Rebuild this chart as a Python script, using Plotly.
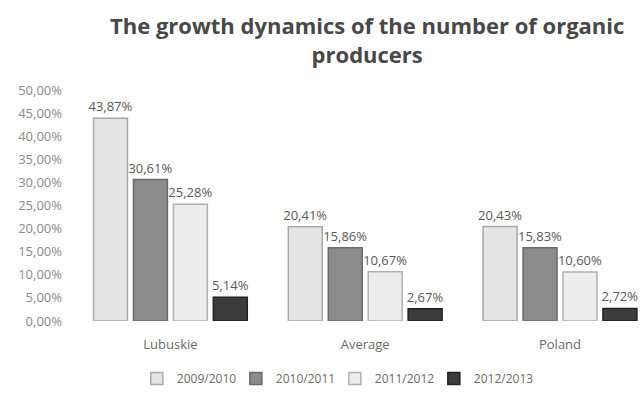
import plotly.graph_objects as go

categories = ["Lubuskie", "Average", "Poland"]
series_names = ["2009/2010", "2010/2011", "2011/2012", "2012/2013"]
v_2009_2010 = [43.87, 20.41, 20.43]
v_2010_2011 = [30.61, 15.86, 15.83]
v_2011_2012 = [25.28, 10.67, 10.60]
v_2012_2013 = [5.14, 2.67, 2.72]
tick_vals = [0, 5, 10, 15, 20, 25, 30, 35, 40, 45, 50]
tick_text = ["0,00%", "5,00%", "10,00%", "15,00%", "20,00%", "25,00%",
             "30,00%", "35,00%", "40,00%", "45,00%", "50,00%"]
title_text = "The growth dynamics of the number of organic<br>producers"

values = [v_2009_2010, v_2010_2011, v_2011_2012, v_2012_2013]
fills = ["#e4e4e4", "#8c8c8c", "#ededed", "#3c3c3c"]
edges = ["#a8a8a8", "#6a6a6a", "#b0b0b0", "#222222"]

fig = go.Figure()
for name, vals, fc, ec in zip(series_names, values, fills, edges):
    fig.add_trace(go.Bar(
        name=name, x=categories, y=vals,
        marker=dict(color=fc, line=dict(color=ec, width=1.5)),
        text=[f"{v:.2f}%".replace(".", ",") for v in vals],
        textposition="outside", cliponaxis=False, constraintext="none",
        textfont=dict(family="Open Sans", size=13, color="#595959"),
    ))

fig.add_annotation(
    text=title_text, showarrow=False,
    x=0.516, xref="paper", xanchor="center",
    y=1 + (90 - 6) / 237, yref="paper", yanchor="top",
    font=dict(family="Open Sans", size=22, color="#484848", weight="bold"),
)

fig.update_layout(
    width=643, height=393,
    margin=dict(l=73, r=0, t=90, b=66),
    paper_bgcolor="white", plot_bgcolor="white",
    barmode="group", bargap=0.18, bargroupgap=0.15,
    font=dict(family="Open Sans", size=13, color="#6a6a6a"),
    showlegend=True,
    legend=dict(
        orientation="h", x=0.112, xanchor="left", y=-0.25, yanchor="middle",
        font=dict(family="Open Sans", size=12, color="#6a6a6a"),
        entrywidth=54, itemwidth=30,
    ),
    xaxis=dict(range=[-0.5, 2.426], showline=False, showgrid=False,
               ticks="", ticklabelstandoff=14,
               tickfont=dict(family="Open Sans", size=13, color="#6a6a6a")),
    yaxis=dict(range=[0, 50], tickvals=tick_vals, ticktext=tick_text,
               showline=False, showgrid=False, zeroline=False, ticks="",
               ticklabelstandoff=10,
               tickfont=dict(family="Open Sans", size=13, color="#8a8a8a")),
)

fig.write_html("out.html")
